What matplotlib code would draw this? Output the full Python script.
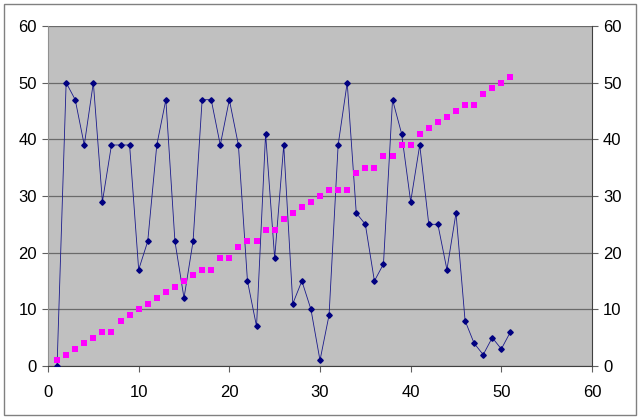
import numpy as np
import matplotlib.pyplot as plt
from matplotlib.patches import Rectangle

plt.rcParams['font.family'] = ['Liberation Sans', 'DejaVu Sans']

x_values = np.arange(1, 52)
blue_values = [0, 50, 47, 39, 50, 29, 39, 39, 39, 17,
               22, 39, 47, 22, 12, 22, 47, 47, 39, 47,
               39, 15, 7, 41, 19, 39, 11, 15, 10, 1,
               9, 39, 50, 27, 25, 15, 18, 47, 41, 29,
               39, 25, 25, 17, 27, 8, 4, 2, 5, 3, 6]
pink_values = [1, 2, 3, 4, 5, 6, 6, 8, 9, 10,
               11, 12, 13, 14, 15, 16, 17, 17, 19, 19,
               21, 22, 22, 24, 24, 26, 27, 28, 29, 30,
               31, 31, 31, 34, 35, 35, 37, 37, 39, 39,
               41, 42, 43, 44, 45, 46, 46, 48, 49, 50, 51]
ticks = [0, 10, 20, 30, 40, 50, 60]


def main():
    fig = plt.figure(figsize=(6.4, 4.2), dpi=100)
    ax = fig.add_axes([48 / 640, 54 / 420, 544 / 640, 340 / 420])
    ax.set_facecolor('#C0C0C0')

    ax.plot(x_values, blue_values, color='#1a1a8c', linewidth=0.6,
            marker='D', markersize=2.8, markerfacecolor='#000080',
            markeredgecolor='#000080', zorder=3)
    ax.plot(x_values, pink_values, linestyle='none', marker='s',
            markersize=4.5, color='#FF00FF', markeredgewidth=0, zorder=4)

    ax.set_xlim(0, 60)
    ax.set_ylim(0, 60)
    ax.set_xticks(ticks)
    ax.set_yticks(ticks)
    ax.yaxis.grid(True, color='#6a6a6a', linewidth=0.9)
    ax.set_axisbelow(True)

    ax.tick_params(axis='both', direction='out', length=4, width=0.8,
                   color='#606060', labelsize=12, pad=4)
    ax.tick_params(axis='y', right=True, labelright=True)
    ax.tick_params(axis='x', pad=10)

    ax.spines['top'].set_visible(False)
    for side in ['left', 'right', 'bottom']:
        ax.spines[side].set_color('#404040')
        ax.spines[side].set_linewidth(0.8)
    ax.spines['left'].set_color('#909090')

    fig.patches.append(Rectangle((4 / 640, 5 / 420), 632 / 640, 411 / 420,
                                 transform=fig.transFigure, fill=False,
                                 edgecolor='#808080', linewidth=1))

    fig.savefig('out.png', dpi=100)


if __name__ == '__main__':
    main()
